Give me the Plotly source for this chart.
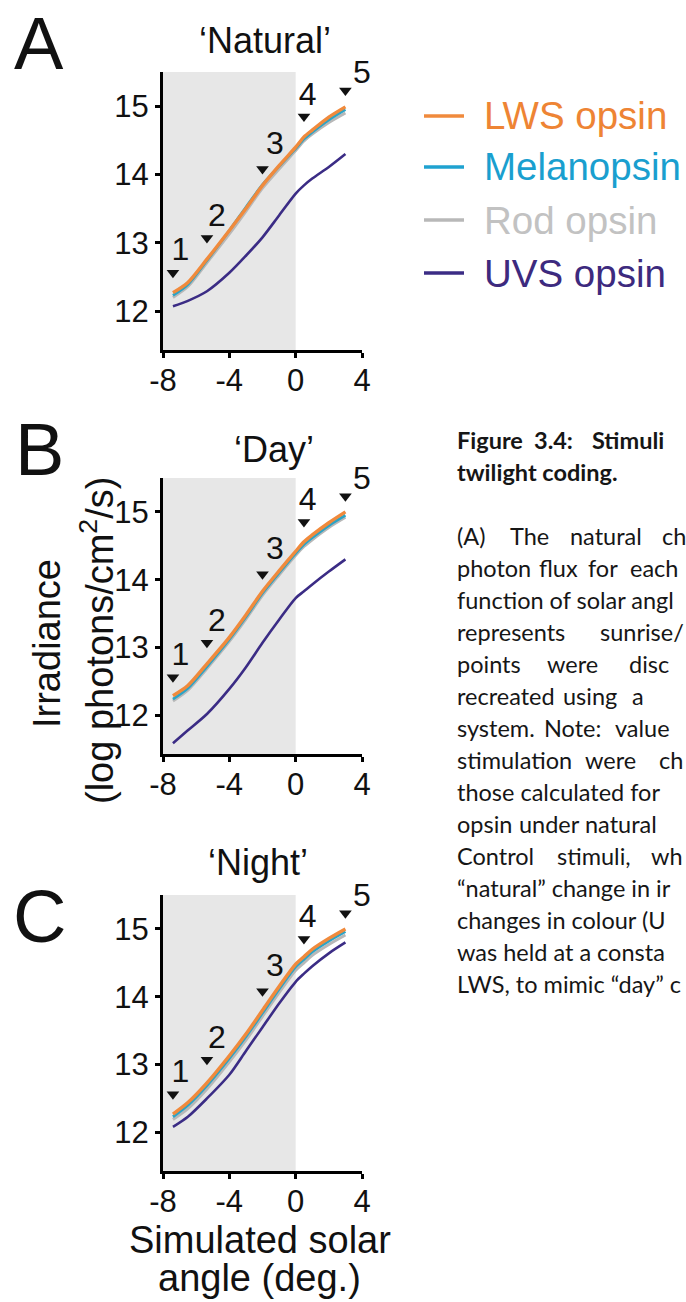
import plotly.graph_objects as go

W, H = 686, 1302

# ---------------- data ----------------
angle = [-7.4, -6.5, -5.35, -4.0, -3.0, -2.0, -1.0, 0.0, 0.5, 1.0, 2.0, 3.0]

# Panel A  'Natural'
nat_lws = [12.27, 12.42, 12.76, 13.18, 13.50, 13.84, 14.13, 14.40, 14.55, 14.65, 14.84, 14.99]
nat_mel = [12.23, 12.39, 12.74, 13.18, 13.52, 13.85, 14.12, 14.38, 14.52, 14.62, 14.80, 14.95]
nat_rod = [12.20, 12.36, 12.71, 13.13, 13.46, 13.80, 14.08, 14.35, 14.49, 14.59, 14.76, 14.90]
nat_uvs = [12.07, 12.15, 12.29, 12.56, 12.81, 13.08, 13.40, 13.72, 13.84, 13.94, 14.11, 14.30]

# Panel B  'Day'
day_lws = [12.29, 12.44, 12.76, 13.15, 13.48, 13.83, 14.13, 14.42, 14.56, 14.66, 14.84, 15.00]
day_mel = [12.24, 12.40, 12.72, 13.12, 13.45, 13.80, 14.10, 14.39, 14.52, 14.62, 14.80, 14.95]
day_rod = [12.21, 12.37, 12.69, 13.09, 13.42, 13.77, 14.07, 14.36, 14.49, 14.59, 14.77, 14.92]
day_uvs = [11.59, 11.78, 12.02, 12.39, 12.71, 13.07, 13.41, 13.73, 13.83, 13.93, 14.12, 14.30]

# Panel C  'Night'
night_lws = [12.27, 12.44, 12.73, 13.13, 13.45, 13.80, 14.15, 14.48, 14.59, 14.70, 14.86, 15.00]
night_mel = [12.23, 12.40, 12.69, 13.09, 13.41, 13.76, 14.11, 14.44, 14.55, 14.66, 14.82, 14.96]
night_rod = [12.19, 12.35, 12.64, 13.04, 13.36, 13.71, 14.06, 14.39, 14.50, 14.61, 14.77, 14.91]
night_uvs = [12.08, 12.23, 12.50, 12.85, 13.20, 13.55, 13.90, 14.22, 14.34, 14.45, 14.64, 14.80]

# stimulus points (arrowheads) and their numbers
stim_angle = [-7.4, -5.35, -2.0, 0.5, 3.0]
stim_marker_y = [12.56, 13.07, 14.08, 14.85, 15.23]
stim_labels = ["1", "2", "3", "4", "5"]
stim_label_x = [-6.95, -4.75, -1.25, 0.72, 4.0]
stim_label_y = [12.86, 13.36, 14.42, 15.14, 15.45]

series_names = ["UVS opsin", "Rod opsin", "Melanopsin", "LWS opsin"]   # drawing order
series_colors = ["#3B2C85", "#B8B8B8", "#2BA3C6", "#F08A3C"]
series_widths = [2.6, 3, 2.8, 3.4]
legend_names = ["LWS opsin", "Melanopsin", "Rod opsin", "UVS opsin"]
legend_line_colors = ["#F08A3C", "#1FA2D0", "#B8B8B8", "#3B2C85"]
legend_text_colors = ["#EE8434", "#1A9FCF", "#C2C2C2", "#3D2A7E"]

panel_titles = ["‘Natural’", "‘Day’", "‘Night’"]
panel_letters = ["A", "B", "C"]
panel_series = [
    [nat_uvs, nat_rod, nat_mel, nat_lws],
    [day_uvs, day_rod, day_mel, day_lws],
    [night_uvs, night_rod, night_mel, night_lws],
]

x_ticks = [-8, -4, 0, 4]
x_tick_labels = ["-8", "-4", "0", "4"]
y_ticks = [12, 13, 14, 15]
y_tick_labels = ["12", "13", "14", "15"]
x_range = [-8, 4]
y_range = [11.43, 15.5]
night_x0, night_x1 = -8, 0

# ---------------- layout geometry (pixels) ----------------
AX_L, AX_R = 163, 362
panel_px = [(72, 350), (478, 754), (895, 1171)]
title_px = [(265, 40), (274, 450), (258, 862)]
letter_px = [(39, 0), (39, 406), (39, 873)]   # top of text box

FONT = "Liberation Sans, Arial, sans-serif"
CAP_FONT = "Lato, Carlito, Calibri, sans-serif"


def px(x):
    return x / W


def py(y):
    return 1 - y / H


fig = go.Figure()
annotations = []
shapes = []

for i, series in enumerate(panel_series):
    sx = "" if i == 0 else str(i + 1)
    for name, col, lw, vals in zip(series_names, series_colors, series_widths, series):
        fig.add_trace(go.Scatter(
            x=angle, y=vals, mode="lines", name=name,
            line=dict(color=col, width=lw, shape="spline", smoothing=0.8),
            xaxis="x" + sx, yaxis="y" + sx, showlegend=False, cliponaxis=False,
        ))
    fig.add_trace(go.Scatter(
        x=stim_angle, y=stim_marker_y, mode="markers",
        marker=dict(symbol="triangle-down", size=11, color="#111111"),
        xaxis="x" + sx, yaxis="y" + sx, showlegend=False, cliponaxis=False,
    ))
    fig.add_trace(go.Scatter(
        x=stim_label_x, y=stim_label_y, mode="text", text=stim_labels,
        textfont=dict(family=FONT, size=32, color="#111111"),
        textposition="middle center",
        xaxis="x" + sx, yaxis="y" + sx, showlegend=False, cliponaxis=False,
    ))

    top, bot = panel_px[i]
    axis_common = dict(
        showline=True, linewidth=3, linecolor="black", mirror=False,
        ticks="outside", ticklen=5, tickwidth=2.5, tickcolor="black",
        showgrid=False, zeroline=False,
        tickfont=dict(family=FONT, size=31, color="#111111"),
        fixedrange=True,
    )
    fig.update_layout({
        "xaxis" + sx: dict(domain=[px(AX_L), px(AX_R)], range=x_range,
                           anchor="y" + sx, tickmode="array", ticklabelstandoff=-4,
                           tickvals=x_ticks, ticktext=x_tick_labels, **axis_common),
        "yaxis" + sx: dict(domain=[py(bot), py(top)], range=y_range,
                           anchor="x" + sx, tickmode="array",
                           tickvals=y_ticks, ticktext=y_tick_labels, **axis_common),
    })
    shapes.append(dict(type="rect", xref="x" + sx, yref="y" + sx + " domain",
                       x0=night_x0, x1=night_x1, y0=0, y1=1,
                       fillcolor="#E7E7E7", line=dict(width=0), layer="below"))

    tx, ty = title_px[i]
    annotations.append(dict(text=panel_titles[i], x=px(tx), y=py(ty), xref="paper", yref="paper",
                            showarrow=False, xanchor="center", yanchor="middle",
                            font=dict(family=FONT, size=36, color="#111111")))
    lx, ly = letter_px[i]
    annotations.append(dict(text=panel_letters[i], x=px(lx), y=py(ly), xref="paper", yref="paper",
                            showarrow=False, xanchor="center", yanchor="top",
                            font=dict(family=FONT, size=74, color="#111111")))

# axis titles
annotations.append(dict(text="Irradiance", x=px(47), y=py(643), xref="paper", yref="paper",
                        showarrow=False, textangle=-90, xanchor="center", yanchor="middle",
                        font=dict(family=FONT, size=38, color="#111111")))
annotations.append(dict(text="(log photons/cm<sup>2</sup>/s)", x=px(97), y=py(641), xref="paper", yref="paper",
                        showarrow=False, textangle=-90, xanchor="center", yanchor="middle",
                        font=dict(family=FONT, size=38, color="#111111")))
annotations.append(dict(text="Simulated solar", x=px(260), y=py(1240), xref="paper", yref="paper",
                        showarrow=False, xanchor="center", yanchor="middle",
                        font=dict(family=FONT, size=38, color="#111111")))
annotations.append(dict(text="angle (deg.)", x=px(259), y=py(1278), xref="paper", yref="paper",
                        showarrow=False, xanchor="center", yanchor="middle",
                        font=dict(family=FONT, size=38, color="#111111")))

# legend (drawn by hand to match layout)
legend_y = [116, 167, 220, 273]
for name, lc, tc, ly in zip(legend_names, legend_line_colors, legend_text_colors, legend_y):
    shapes.append(dict(type="line", xref="paper", yref="paper",
                       x0=px(424), x1=px(464), y0=py(ly), y1=py(ly),
                       line=dict(color=lc, width=3.5)))
    annotations.append(dict(text=name, x=px(482), y=py(ly), xref="paper", yref="paper",
                            showarrow=False, xanchor="left", yanchor="middle",
                            font=dict(family=FONT, size=38.5, color=tc)))

# caption text (justified lines placed word by word)
caption = [
    (0, True, [(455, "Figure"), (532, "3.4:"), (590, "Stimuli")]),
    (1, True, [(455, "twilight coding.")]),
    (3, False, [(455, "(A)"), (508, "The"), (568, "natural"), (660, "ch")]),
    (4, False, [(455, "photon"), (537, "flux"), (586, "for"), (628, "each")]),
    (5, False, [(455, "function of solar angl")]),
    (6, False, [(455, "represents"), (598, "sunrise/")]),
    (7, False, [(455, "points"), (545, "were"), (627, "disc")]),
    (8, False, [(455, "recreated"), (561, "using"), (630, "a")]),
    (9, False, [(455, "system."), (542, "Note:"), (613, "value")]),
    (10, False, [(455, "stimulation"), (583, "were"), (657, "ch")]),
    (11, False, [(455, "those calculated for")]),
    (12, False, [(455, "opsin"), (517, "under"), (583, "natural")]),
    (13, False, [(455, "Control"), (555, "stimuli,"), (649, "wh")]),
    (14, False, [(455, "“natural” change in ir")]),
    (15, False, [(455, "changes in colour (U")]),
    (16, False, [(455, "was held at a consta")]),
    (17, False, [(455, "LWS, to mimic “day” c")]),
]
CAP_Y0, CAP_DY = 440, 32
for line_no, bold, words in caption:
    yline = CAP_Y0 + CAP_DY * line_no
    for xw, w in words:
        annotations.append(dict(text=("<b>%s</b>" % w) if bold else w, x=px(xw), y=py(yline),
                                xref="paper", yref="paper", showarrow=False,
                                xanchor="left", yanchor="middle",
                                font=dict(family=CAP_FONT, size=23.5, color="#161616")))

fig.update_layout(
    width=W, height=H,
    margin=dict(l=0, r=0, t=0, b=0, autoexpand=False),
    paper_bgcolor="white", plot_bgcolor="white",
    showlegend=False,
    annotations=annotations, shapes=shapes,
    font=dict(family=FONT),
)

fig.write_html("out.html", config={"displayModeBar": False})
